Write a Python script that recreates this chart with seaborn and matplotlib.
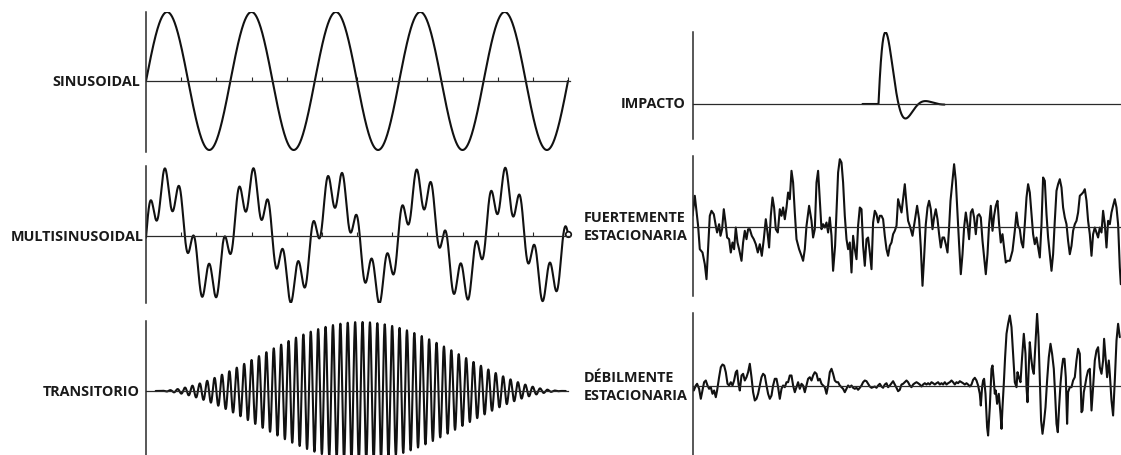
import numpy as np
import matplotlib
matplotlib.use("Agg")
import matplotlib.pyplot as plt
import seaborn as sns

W, H = 1121, 456

# ---------------- waveform data ----------------
labels = ["SINUSOIDAL", "MULTISINUSOIDAL", "TRANSITORIO",
          "IMPACTO", "FUERTEMENTE\nESTACIONARIA", "DÉBILMENTE\nESTACIONARIA"]

# pure sine: cycles over the trace, amplitude
sine_cycles = 5
sine_amp = 69

# multi-sine: fundamental + high-frequency component
multi_cycles = [5, 28.5]
multi_amps = [48, 20]
multi_phases = [0.0, -0.1]

# transient: carrier period, peak amplitude, envelope centre and half-width
trans_period = 7.4
trans_amp = 69
trans_center = 214.7
trans_halfwidth = 205

# impact: onset, amplitude, decay rate, ringing period
impact_onset = 186
impact_amp = 141
impact_decay = 0.08
impact_period = 40

# strongly stationary record (time, value)
strong_t = [0.0, 2.3, 5.6, 7.3, 10.0, 12.3, 14.0, 15.6, 17.3, 19.0, 21.3, 23.3, 24.6, 26.6, 28.0,
            29.6, 31.3, 33.0, 34.6, 36.6, 38.3, 40.0, 41.6, 43.3, 45.0, 46.6, 49.0, 50.6, 52.3,
            54.0, 55.6, 57.3, 59.3, 61.3, 63.3, 65.3, 67.3, 69.3, 71.3, 73.3, 75.0, 76.6, 78.3,
            80.0, 81.6, 83.3, 85.3, 87.3, 89.0, 90.6, 92.3, 94.0, 95.6, 97.3, 99.0, 100.6, 102.3,
            104.0, 106.6, 109.0, 110.6, 112.3, 114.0, 116.6, 119.0, 120.6, 122.3, 124.0, 125.6,
            127.3, 129.0, 130.6, 132.3, 134.0, 135.6, 137.3, 139.0, 140.6, 142.6, 144.0, 145.6,
            147.3, 149.0, 150.6, 152.3, 154.0, 155.6, 157.3, 159.0, 160.6, 162.3, 164.0, 165.6,
            167.3, 169.0, 170.6, 172.3, 174.0, 175.6, 177.3, 179.0, 180.6, 182.3, 184.0, 185.6,
            187.3, 189.0, 190.6, 192.3, 194.0, 195.6, 197.3, 199.0, 200.6, 202.3, 204.0, 205.6,
            207.3, 209.0,
            212.3, 214.0, 215.6, 217.3, 220.0, 222.3, 224.6, 226.6, 228.3, 230.0, 231.6, 233.3,
            235.0, 236.6, 238.3, 240.0, 241.6, 243.3, 245.0, 246.6, 248.3, 250.0, 251.6, 253.3,
            255.0, 256.6, 258.0, 259.6, 261.6, 263.3, 265.0, 266.6, 268.3, 270.0, 271.6, 273.3,
            275.0, 276.6, 278.3, 280.0, 281.6, 283.3, 285.0, 286.6, 288.3, 290.0, 291.6, 293.3,
            295.0, 296.6, 298.3, 300.0, 301.6, 303.3, 305.0, 306.6, 308.3, 310.0, 311.6, 313.3,
            315.0, 317.3, 320.0, 322.3, 324.0, 325.6, 327.3, 329.0, 330.6, 332.3, 334.0, 335.6,
            337.3, 339.0, 340.6, 342.3, 344.0, 345.6, 347.3, 349.0, 350.6, 352.3, 354.0, 355.6,
            357.3, 359.0, 360.6, 362.3, 364.0, 365.6, 367.3, 369.0, 370.6, 372.3, 374.0, 375.6,
            377.3, 379.0, 380.6, 382.3, 384.0, 385.6, 387.3, 389.0, 390.6, 392.3, 394.0, 395.6,
            397.3, 399.0, 400.6, 402.3, 404.0, 405.6, 407.3, 409.0, 410.6, 412.3, 414.0, 415.6,
            417.3, 419.0, 420.6, 422.3, 424.0, 425.6, 427.3, 428.3]
strong_v = [10.7, 30.7, 0.7, -22.7, -26.0, -37.7, -52.7, -22.7, 10.7, 15.7, 12.3, 0.7, -6.0, 2.3, -9.3,
            -2.7, 17.3, 4.0, -11.0, -12.7, -26.0, -16.0, -22.7, -1.0, -16.0, -22.7, -34.3, -16.0, -4.3,
            -12.7, -2.7, -2.7, -9.3, -12.7, -17.7, -26.0, -17.7, -29.3, -12.7, 7.3, -6.0, -21.0, 10.7,
            29.0, 19.0, -2.7, -6.0, 17.3, 10.7, 19.0, 7.3, 19.0, 34.0, 27.3, 55.7, 44.0, 14.0,
            -12.7, -22.7, -29.3, -34.3, -22.7, 0.7, 20.7, 5.7, -11.0, -2.7, 44.0, 55.7,
            27.3, -2.7, 2.3, -1.0, 4.0, -6.0, 9.0, -9.3, -44.3, -19.3, 14.0, 54.0,
            67.3, 64.0, 44.0, 10.7, -12.7, -22.7, -16.0, -46.0, -9.3, -22.7, -32.7, 0.7,
            19.0, 17.3, -19.3, -39.3, -12.7, -11.0, -26.0, -42.7, 4.0, 15.7, 12.3, 4.0,
            10.7, 10.7, 7.3, -9.3, -22.7, -29.3, -19.3, -16.0, -7.7, -4.3, 0.7, 27.3,
            20.7, 14.0,
            42.3, 22.3, 5.7, 0.7, -9.3, 5.7, 20.7, 7.3, -21.0, -59.3, -31.0, 2.3,
            19.0, 25.7, 17.3, -2.7, 9.0, 17.3, 7.3, -7.7, -21.0, -11.0, -11.0, -17.7,
            -26.0, -1.0, 25.7, 42.3, 62.3, 45.7, 12.3, -17.7, -47.7, -27.7, -1.0, 14.0,
            2.3, -12.7, 14.0, 17.3, 9.0, -7.7, 10.7, 12.3, 9.0, -14.3, -31.0, -47.7,
            -27.7, 2.3, 20.7, -4.3, 10.7, 20.7, 25.7, 2.3, -16.0, -7.7, -21.0, -36.0,
            -34.3, -34.3, -24.3, -4.3, 14.0, 0.7, -2.7, -16.0, -21.0, 2.3, 29.0, 42.3,
            34.0, 12.3, -7.7, -17.7, -11.0, -21.0, -31.0, 2.3, 49.0, 45.7, 12.3, -11.0,
            -27.7, -44.3, -27.7, 5.7, 35.7, 42.3, 47.3, 39.0, 19.0, 9.0, 2.3, -14.3,
            -27.7, -19.3, -4.3, 2.3, 5.7, 14.0, 30.7, 32.3, 34.0, 37.3, 25.7, 5.7,
            -7.7, -29.3, -7.7, -1.0, -6.0, -11.0, -1.0, -6.0, 15.7, 2.3, -21.0, 5.7,
            2.3, 14.0, 20.7, 27.3, 19.0, 2.3, -41.0, -57.7]

# weakly stationary record (time, value)
weak_t = [0.0, 1.3, 3.3, 4.6, 6.6, 8.3, 10.0, 11.6, 13.3, 15.0, 16.6, 18.3, 20.0, 21.6, 23.3, 24.6,
          26.6, 28.3, 30.0, 31.6, 33.3, 35.0, 36.6, 38.3, 40.0, 41.6, 43.3, 44.6, 46.0, 47.3,
          49.0, 50.6, 52.3, 54.0, 55.6, 57.3, 59.0, 60.6, 62.3, 64.0, 65.6, 67.3, 69.0, 70.6,
          72.3, 74.0, 75.6, 77.3, 79.0, 80.6, 82.3, 84.0, 85.6, 87.3, 89.0, 90.6, 92.3, 94.0,
          95.6, 97.3, 99.0, 100.6, 102.3, 104.0, 105.6, 107.3, 109.0, 110.6, 112.3, 114.0,
          115.6, 117.3, 119.0, 120.6, 122.3, 124.0, 125.6, 127.3, 129.0, 130.6, 132.3, 134.0,
          135.6, 137.3, 139.0, 140.6, 142.3, 144.0, 145.6, 147.3, 149.0, 150.6, 152.3, 154.0,
          155.6, 157.3, 159.0, 160.6, 162.3, 164.0, 165.6, 167.3, 169.0, 170.6, 172.3, 174.0,
          175.6, 177.3, 179.0, 180.6, 182.3, 184.0, 185.6, 187.3, 189.0, 190.6, 192.3, 194.0,
          195.6, 197.3, 199.0, 200.6, 202.3, 204.0, 205.6, 207.3,
          209.0, 210.6, 212.3, 214.0, 215.6, 217.3, 219.0, 220.6, 222.3, 224.0, 225.6, 227.3,
          229.0, 230.6, 232.3, 234.0, 235.6, 237.3, 239.0, 240.6, 242.3, 244.0, 245.6, 247.3,
          249.0, 250.6, 252.3, 254.0, 255.6, 257.3, 259.0, 260.6, 262.3, 264.0, 265.6, 267.3,
          269.0, 270.6, 272.3, 274.0, 275.6, 277.3, 279.0, 280.6, 282.3, 284.0, 285.6, 287.3,
          288.3, 289.6, 290.6, 291.6, 293.0, 294.6, 295.6, 297.3, 299.0, 300.0, 301.3, 302.3,
          303.3, 304.6, 306.3, 308.0, 309.0, 310.0, 311.3, 312.6, 314.0, 315.6, 317.3, 319.0,
          320.6, 322.3, 324.0, 325.0, 326.3, 328.0, 329.6, 331.3, 333.0, 334.0, 335.0, 336.0,
          337.3, 338.6, 340.0, 341.3, 343.0, 344.6, 346.0, 347.3, 348.6, 350.0, 351.3, 353.0,
          354.6, 356.3, 358.0, 359.6, 361.3, 362.6, 364.0, 365.3, 366.6, 368.0, 369.3, 370.6,
          372.0, 373.3, 374.6, 375.6, 377.3, 379.0, 380.6, 382.3, 384.0, 385.6, 387.3, 389.0,
          390.0, 391.3, 392.6, 394.0, 395.6, 397.3, 399.0, 400.6, 402.3, 404.0, 405.6, 407.3,
          409.0, 410.6, 411.6, 413.0, 414.6, 416.3, 417.3, 419.0, 420.6, 422.3, 424.0, 425.6,
          427.3]
weak_v = [-2.3, -5.0, 0.0, 1.7, -3.3, -13.3, -5.0, 3.3, 5.0, 0.0, -3.3, -1.7, -8.3, -5.0, -11.7, -5.0,
          8.3, 18.3, 21.0, 20.0, 13.3, 1.7, 0.0, 3.3, 0.0, 5.0, 13.3, 15.0, 1.7, -5.0,
          10.0, 11.7, 5.0, 8.3, 13.3, 21.7, 8.3, -6.7, -15.0, -13.3, -8.3, 0.0, 8.3, 11.7,
          10.0, 0.0, -8.3, -13.3, -10.0, 0.0, 6.7, 6.7, -1.7, -13.3, -3.3, 0.0, -1.7, 3.3,
          3.3, 10.0, 10.0, 0.0, -6.7, -1.7, 3.3, -3.3, 1.7, 0.0, -6.7, 0.0,
          6.7, 8.3, 5.0, 10.0, 13.3, 11.7, 5.0, 6.7, 1.7, 0.0, -1.7, -8.3,
          0.0, 13.3, 16.7, 11.7, 5.0, 3.3, 3.3, 0.0, -1.7, -3.3, -6.7, -3.3,
          0.0, -1.7, 0.0, -2.3, -3.3, -2.3, -4.3, -2.3, 0.0, 3.3, 5.0, 4.3,
          1.7, -1.0, -2.3, -1.7, -1.0, -2.3, 0.0, 1.7, -1.0, -2.3, 1.0, 2.3,
          -1.7, 0.0, 2.3, 4.3, 1.0, -2.3, -5.7, -4.3,
          1.0, 1.7, 3.3, 5.0, 3.3, 0.0, -1.7, 1.0, 2.3, 3.3, 2.3, 1.0,
          -1.0, 1.0, 2.3, 1.0, 2.3, 1.0, 3.3, 2.3, 1.0, 2.3, 3.3, 1.0,
          2.3, 1.0, 3.3, 1.0, 2.3, 3.3, 5.0, 3.3, 1.0, 3.3, 2.3, 4.3,
          3.3, 2.3, 1.0, 2.3, 1.0, -1.0, 1.0, 5.7, 7.7, 5.0, 0.0, -8.3,
          -20.0, -1.7, 5.0, 6.7, -8.3, -41.7, -50.0, -21.7, 16.7, 20.0, 5.0, -8.3,
          -5.0, -18.3, -8.3, -28.3, -43.3, -21.7, 1.7, 28.3, 51.7, 61.7, 70.0, 58.3,
          31.7, 3.3, -1.7, 13.3, 8.3, 3.3, 28.3, 51.7, 31.7, -1.7, -16.7, 11.7,
          43.3, 28.3, 16.7, 11.7, 41.7, 71.7, 48.3, 5.0, -35.0, -48.3, -38.3, -21.7,
          5.0, 28.3, 41.7, 31.7, 16.7, -8.3, -38.3, -46.7, -21.7, 1.7, 16.7, 26.7,
          26.7, 8.3, -38.3, -6.7, -1.7, -1.7, 5.0, 8.3, 25.0, 36.7, 31.7, -26.7,
          -25.0, -6.7, 0.0, 8.3, 15.0, 16.7, -25.0, -1.7, 25.0, 35.0, 38.3, 18.3,
          11.7, 25.0, 46.7, 28.3, 8.3, 25.0, 11.7, -15.0, -30.0, 5.0, 45.0, 61.7,
          48.3]

tick_count = 12

# ---------------- figure ----------------
sns.set_theme(style="white")
plt.rcParams["font.family"] = ["Open Sans", "DejaVu Sans"]

fig = plt.figure(figsize=(W / 100, H / 100), dpi=100)
fig.patch.set_facecolor("white")

INK = "#111111"
AXIS_INK = "#2a2a2a"


def panel(left, right, top, bottom, zero):
    """Axes box in pixels; the left spine is the vertical axis, the bottom spine the time axis."""
    ax = fig.add_axes([left / W, 1 - bottom / H, (right - left) / W, (bottom - top) / H])
    ax.patch.set_alpha(0)
    for s in ("top", "right"):
        ax.spines[s].set_visible(False)
    ax.spines["left"].set_linewidth(1.1)
    ax.spines["left"].set_color(AXIS_INK)
    ax.spines["bottom"].set_position(("data", 0))
    ax.spines["bottom"].set_linewidth(0.9)
    ax.spines["bottom"].set_color(AXIS_INK)
    ax.set_yticks([])
    ax.set_xticks([])
    lims = ((0, right - left), (-(bottom - zero), zero - top))
    return ax, lims


def finish(ax, lims, ticks=None):
    ax.set_xlim(*lims[0])
    ax.set_ylim(*lims[1])
    ax.set_xlabel("")
    ax.set_ylabel("")
    if ticks is not None:
        ax.set_xticks(ticks)
        ax.tick_params(axis="x", bottom=True, direction="in", length=3, width=0.8,
                       color=AXIS_INK, labelbottom=False)
    else:
        ax.set_xticks([])
    ax.set_yticks([])


def trace(ax, t, v, lw=1.5):
    sns.lineplot(x=np.asarray(t), y=np.asarray(v), ax=ax, color=INK, linewidth=lw,
                 estimator=None, sort=False)


left_span = 422.0
tick_pos = np.arange(1, tick_count + 1) * left_span / tick_count

# sinusoidal
ax, lims = panel(146, 570, 13, 153, 82)
t = np.linspace(0, left_span, 2500)
trace(ax, t, sine_amp * np.sin(2 * np.pi * sine_cycles * t / left_span))
finish(ax, lims, tick_pos)

# multi-sinusoidal
ax, lims = panel(146, 570, 167, 304, 236.7)
y = np.zeros_like(t)
for c, a, p in zip(multi_cycles, multi_amps, multi_phases):
    y += a * np.sin(2 * np.pi * c * t / left_span + p)
trace(ax, t, y)
ax.plot([t[-1]], [y[-1]], marker="o", ms=4, mfc="white", mec=INK, mew=1.2, clip_on=False)
finish(ax, lims, tick_pos)

# transient
ax, lims = panel(146, 568, 322, 456, 392)
tt = np.linspace(trans_center - trans_halfwidth, trans_center + trans_halfwidth, 5000)
env = 0.5 * (1 + np.cos(np.pi * (tt - trans_center) / trans_halfwidth))
trace(ax, tt, trans_amp * env * np.sin(2 * np.pi * (tt - trans_center) / trans_period), lw=1.5)
finish(ax, lims)

# impact
ax, lims = panel(692.5, 1121, 33, 140, 105)
ti = np.linspace(impact_onset - 16, impact_onset + 66, 1500)
dt = np.clip(ti - impact_onset, 0, None)
yi = np.where(ti >= impact_onset,
              impact_amp * np.exp(-impact_decay * dt) * np.sin(2 * np.pi * dt / impact_period), 0.0)
trace(ax, ti, yi)
finish(ax, lims)

# strongly stationary
ax, lims = panel(692.5, 1121, 157, 297, 227.5)
trace(ax, strong_t, strong_v, lw=1.5)
finish(ax, lims)

# weakly stationary
ax, lims = panel(692.5, 1121, 314, 456, 386.5)
trace(ax, weak_t, weak_v, lw=1.5)
finish(ax, lims)

# ---------------- labels ----------------
label_pos = [(140, 82), (144, 237), (140, 392), (686, 104), (688, 227), (688, 387)]
for text, (x, yy) in zip(labels, label_pos):
    fig.text(x / W, 1 - yy / H, text, ha="right", va="center", multialignment="left",
             fontsize=10.4, fontweight="bold", color="#1a1a1a", linespacing=1.35)

fig.savefig("out.png", dpi=100, facecolor="white")
